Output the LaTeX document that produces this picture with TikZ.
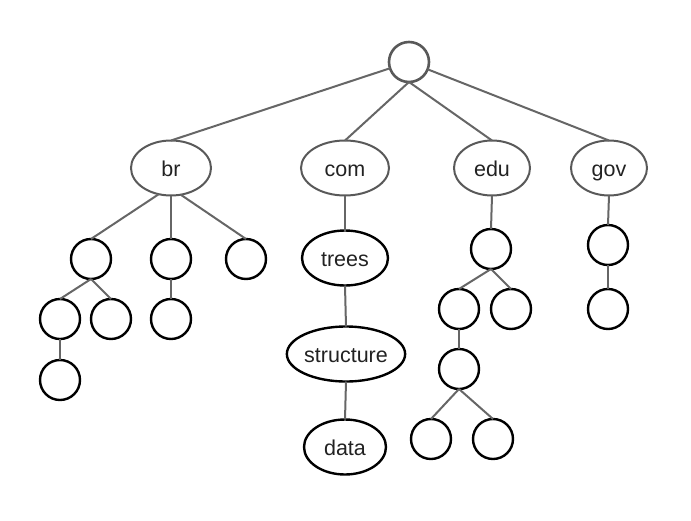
\documentclass[tikz,border=0pt]{standalone}
\usepackage{fontspec}
\setmainfont{Liberation Sans}
\usetikzlibrary{shapes.geometric}
\definecolor{edgegray}{HTML}{666666}
\definecolor{topgray}{HTML}{595959}
\definecolor{txt}{HTML}{222222}
\begin{document}
\begin{tikzpicture}[x=1pt,y=-1pt,
  base/.style={inner sep=0pt, outer sep=0pt, text=txt, font=\fontsize{21.5}{25}\selectfont, text height=16pt, text depth=0pt},
  topell/.style={base, ellipse, draw=topgray, line width=2pt, minimum height=55pt},
  leaf/.style={base, circle, draw=black, line width=2.4pt, minimum size=40pt},
  wordell/.style={base, ellipse, draw=black, line width=2.4pt, minimum height=55pt},
  rootc/.style={base, circle, draw=topgray, line width=2.6pt, minimum size=40pt},
  link/.style={draw=edgegray, line width=2pt}]
\useasboundingbox (0,0) rectangle (691,520);
% root
\node[rootc] (root) at (409,62) {};
% top level
\node[topell, minimum width=80pt] (br) at (171,168) {br};
\node[topell, minimum width=88pt] (com) at (345,168) {com};
\node[topell, minimum width=76pt] (edu) at (492,168) {edu};
\node[topell, minimum width=76pt] (gov) at (609,168) {gov};
% br subtree
\node[leaf] (b1) at (91,259) {};
\node[leaf] (b2) at (171,259) {};
\node[leaf] (b3) at (246,259) {};
\node[leaf] (b11) at (60,319) {};
\node[leaf] (b12) at (111,319) {};
\node[leaf] (b111) at (60,380) {};
\node[leaf] (b21) at (171,319) {};
% com subtree
\node[wordell, minimum width=86pt] (trees) at (345,258) {trees};
\node[wordell, minimum width=104pt] (structure) at (346,354) {structure};
\node[wordell, minimum width=82pt] (data) at (345,447) {data};
% edu subtree
\node[leaf] (e1) at (491,249) {};
\node[leaf] (e11) at (459,309) {};
\node[leaf] (e12) at (511,309) {};
\node[leaf] (e111) at (459,369) {};
\node[leaf] (e1111) at (431,439) {};
\node[leaf] (e1112) at (493,439) {};
% gov subtree
\node[leaf] (g1) at (608,245) {};
\node[leaf] (g11) at (608,309) {};
% edges
\path[link] (root) -- (br.north);
\path[link] (root.south) -- (com.north);
\path[link] (root.south) -- (edu.north);
\path[link] (root) -- (gov.north);
\path[link] (br.245) -- (b1.north);
\path[link] (br.south) -- (b2.north);
\path[link] (br.290) -- (b3.north);
\path[link] (b1.south) -- (b11.north);
\path[link] (b1.south) -- (b12.north);
\path[link] (b11.south) -- (b111.north);
\path[link] (b2.south) -- (b21.north);
\path[link] (com.south) -- (trees.north);
\path[link] (trees.south) -- (structure.north);
\path[link] (structure.south) -- (data.north);
\path[link] (edu.south) -- (e1.north);
\path[link] (e1.south) -- (e11.north);
\path[link] (e1.south) -- (e12.north);
\path[link] (e11.south) -- (e111.north);
\path[link] (e111.south) -- (e1111.north);
\path[link] (e111.south) -- (e1112.north);
\path[link] (gov.south) -- (g1.north);
\path[link] (g1.south) -- (g11.north);
\end{tikzpicture}
\end{document}
